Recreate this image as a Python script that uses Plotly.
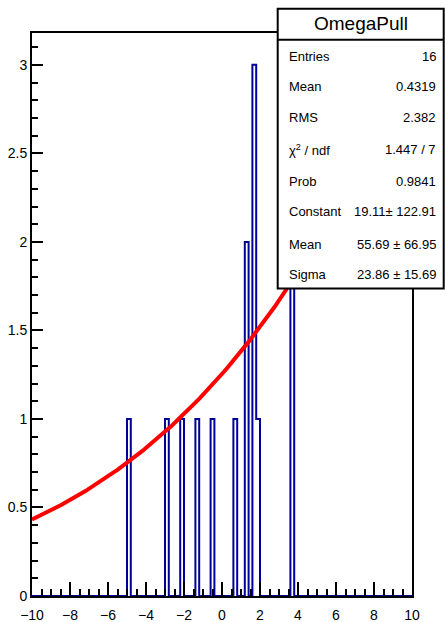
import numpy as np
import plotly.graph_objects as go

# histogram OmegaPull: 100 bins on [-10, 10]
n_bins = 100
x_lo, x_hi = -10.0, 10.0
filled_bin_low = [-5.0, -3.0, -2.2, -1.4, -0.6, 0.6, 1.2, 1.6, 1.8, 3.6]
filled_counts = [1, 1, 1, 1, 1, 1, 2, 3, 1, 2]

# gaus fit from the stats box
fit_const, fit_mean, fit_sigma = 19.11, 55.69, 23.86

stat_labels = ["Entries", "Mean", "RMS", "χ<sup>2</sup> / ndf", "Prob",
               "Constant", "Mean", "Sigma"]
stat_values = ["16", "0.4319", "2.382", "1.447 / 7", "0.9841",
               "19.11± 122.91", "55.69 ± 66.95", "23.86 ± 15.69"]

width = (x_hi - x_lo) / n_bins
edges = x_lo + width * np.arange(n_bins + 1)
counts = np.zeros(n_bins)
for lo, c in zip(filled_bin_low, filled_counts):
    counts[int(round((lo - x_lo) / width))] = c

fx = np.linspace(x_lo, x_hi, 400)
fy = fit_const * np.exp(-0.5 * ((fx - fit_mean) / fit_sigma) ** 2)

fig = go.Figure()
fig.add_trace(go.Scatter(
    x=edges, y=np.append(counts, counts[-1]), mode="lines",
    line=dict(shape="hv", color="#000099", width=2),
    showlegend=False, hoverinfo="skip"))
fig.add_trace(go.Scatter(
    x=fx, y=fy, mode="lines", line=dict(color="#ff0000", width=4),
    showlegend=False, hoverinfo="skip"))

font = "Liberation Sans, Arial, sans-serif"
axis_common = dict(showline=True, linecolor="black", linewidth=2, mirror=True,
                   ticks="inside", tickcolor="black", tickwidth=1.5,
                   showgrid=False, zeroline=False, layer="above traces",
                   automargin=False,
                   tickfont=dict(family=font, size=14, color="black"))
fig.update_xaxes(range=[x_lo, x_hi], dtick=2, ticklen=14, ticklabelstandoff=5,
                 minor=dict(dtick=0.5, ticklen=7, ticks="inside",
                            tickcolor="black", tickwidth=1.5),
                 **axis_common)
fig.update_yaxes(range=[0, 3.18], dtick=0.5, ticklen=11,
                 minor=dict(dtick=0.1, ticklen=6, ticks="inside",
                            tickcolor="black", tickwidth=1.5),
                 **axis_common)

# stats box in pixel -> paper coords
L, R, T, B = 32.3, 412.3, 33.3, 596.5
px = lambda x: (x - L) / (R - L)
py = lambda y: (B - y) / (B - T)

shapes = [
    dict(type="rect", xref="paper", yref="paper", layer="above",
         x0=px(278), x1=px(444), y0=py(289), y1=py(9),
         fillcolor="white", line=dict(color="black", width=2)),
    dict(type="line", xref="paper", yref="paper", layer="above",
         x0=px(278), x1=px(444), y0=py(40), y1=py(40),
         line=dict(color="black", width=2)),
]
annotations = [dict(x=px(361), y=py(24), xref="paper", yref="paper",
                    text="OmegaPull", showarrow=False,
                    xanchor="center", yanchor="middle",
                    font=dict(family=font, size=19, color="black"))]
row_y = [56.7, 87.3, 118.3, 150, 181.7, 211.7, 245, 275]
for yy, lab, val in zip(row_y, stat_labels, stat_values):
    annotations.append(dict(x=px(287), y=py(yy), xref="paper", yref="paper",
                            text=lab, showarrow=False,
                            xanchor="left", yanchor="middle",
                            font=dict(family=font, size=13, color="black")))
    annotations.append(dict(x=px(438), y=py(yy), xref="paper", yref="paper",
                            text=val, showarrow=False,
                            xanchor="right", yanchor="middle",
                            font=dict(family=font, size=13, color="black")))

fig.update_layout(width=446, height=622,
                  margin=dict(l=32, r=34, t=33, b=25.5),
                  plot_bgcolor="white", paper_bgcolor="white",
                  shapes=shapes, annotations=annotations)
fig.write_html("out.html", config={"displayModeBar": False},
               post_script="document.body.style.margin='0';")
